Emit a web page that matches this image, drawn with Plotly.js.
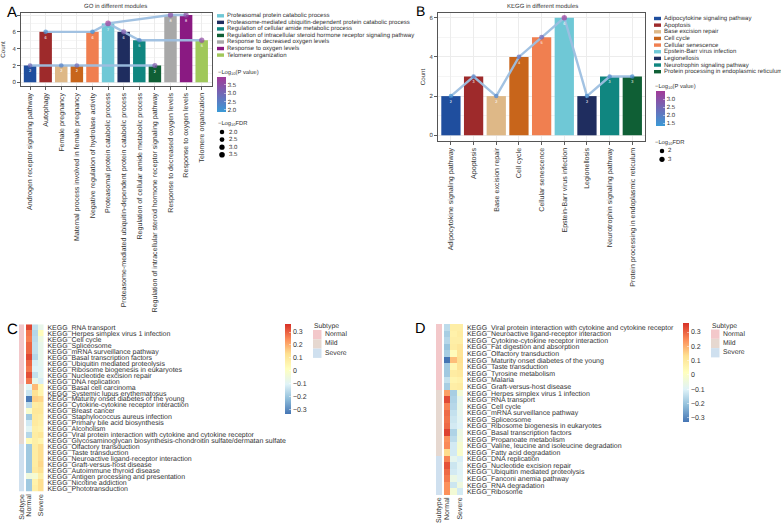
<!DOCTYPE html>
<html>
<head>
<meta charset="utf-8">
<script src="https://cdn.plot.ly/plotly-3.0.1.min.js"></script>
<style>
html,body{margin:0;padding:0;background:#fff}
svg text{text-rendering:geometricPrecision}
</style>
</head>
<body>
<div id="chart" style="width:781px;height:524px"></div>
<script>
// panel A
const goTerms = ['Androgen receptor signaling pathway', 'Autophagy', 'Female pregnancy', 'Maternal process involved in female pregnancy', 'Negative regulation of hydrolase activity', 'Proteasomal protein catabolic process', 'Proteasome-mediated ubiquitin-dependent protein catabolic process', 'Regulation of cellular amide metabolic process', 'Regulation of intracellular steroid hormone receptor signaling pathway', 'Response to decreased oxygen levels', 'Response to oxygen levels', 'Telomere organization']
const goCounts = [2, 6, 2, 2, 6, 7, 6, 5, 2, 8, 8, 5]
const goColors = ['#1f4e9e', '#9e2a2b', '#deb887', '#c8651b', '#f07f50', '#6fc8d6', '#1f2d5f', '#108680', '#0f5f35', '#a8a8a8', '#8a1a82', '#a0c85a']
const goP = [2.9, 2.1, 2.4, 2.9, 2.1, 3.9, 3.3, 2.3, 3.3, 3.5, 3.5, 3.6]
const goFdr = [2.2, 2.2, 2.2, 2.2, 2.2, 3.5, 2.8, 2.2, 2.8, 3, 3, 3]
const goPaths = [[0, 2, 3, 8], [1, 4, 5, 9, 10], [5, 6, 7, 11]]

// panel B
const keggTerms = ['Adipocytokine signaling pathway', 'Apoptosis', 'Base excision repair', 'Cell cycle', 'Cellular senescence', 'Epstein-Barr virus infection', 'Legionellosis', 'Neurotrophin signaling pathway', 'Protein processing in endoplasmic reticulum']
const keggCounts = [2, 3, 2, 4, 5, 6, 2, 3, 3]
const keggColors = ['#1f4e9e', '#9e2a2b', '#deb887', '#c8651b', '#f07f50', '#6fc8d6', '#1f2d5f', '#108680', '#0f5f35']
const keggP = [1.5, 1.9, 1.8, 2.2, 2.5, 3.4, 1.6, 1.7, 1.6]
const keggFdr = [2, 2, 2, 2.4, 2.6, 3.2, 2, 2, 2]

// panel C
const heatLabelsC = ['RNA transport', 'Herpes simplex virus 1 infection', 'Cell cycle', 'Spliceosome', 'mRNA surveillance pathway', 'Basal transcription factors', 'Ubiquitin mediated proteolysis', 'Ribosome biogenesis in eukaryotes', 'Nucleotide excision repair', 'DNA replication', 'Basal cell carcinoma', 'Systemic lupus erythematosus', 'Maturity onset diabetes of the young', 'Cytokine-cytokine receptor interaction', 'Breast cancer', 'Staphylococcus aureus infection', 'Primary bile acid biosynthesis', 'Alcoholism', 'Viral protein interaction with cytokine and cytokine receptor', 'Glycosaminoglycan biosynthesis-chondroitin sulfate/dermatan sulfate', 'Olfactory transduction', 'Taste transduction', 'Neuroactive ligand-receptor interaction', 'Graft-versus-host disease', 'Autoimmune thyroid disease', 'Antigen processing and presentation', 'Nicotine addiction', 'Phototransduction']
const heatNormalC = [.33, .27, .26, .29, .29, .33, .29, .27, .32, .27, -.1, -.14, -.33, -.16, -.02, -.2, -.13, -.1, -.17, .03, -.2, -.2, -.2, -.2, -.2, -.05, -.2, -.2]
const heatMildC = [-.15, -.17, -.16, -.15, -.15, -.17, -.12, -.11, -.15, -.08, .18, .12, .15, .08, .1, .09, .09, .07, .08, .07, .08, .08, .08, .08, .09, -.03, .06, .07]
const heatSevereC = [-.08, .02, -.06, -.08, -.08, -.08, -.09, -.1, -.09, -.12, .04, .05, .14, .09, .1, .08, .07, .06, .1, .05, .13, .13, .13, .14, .12, .07, .13, .13]
const subtypeC = [0, 0, 0, 0, 0, 0, 0, 0, 0, 0, 1, 1, 1, 1, 1, 1, 1, 1, 1, 1, 2, 2, 2, 2, 2, 2, 2, 2]

// panel D
const heatLabelsD = ['Viral protein interaction with cytokine and cytokine receptor', 'Neuroactive ligand-receptor interaction', 'Cytokine-cytokine receptor interaction', 'Fat digestion and absorption', 'Olfactory transduction', 'Maturity onset diabetes of the young', 'Taste transduction', 'Tyrosine metabolism', 'Malaria', 'Graft-versus-host disease', 'Herpes simplex virus 1 infection', 'RNA transport', 'Cell cycle', 'mRNA surveillance pathway', 'Spliceosome', 'Ribosome biogenesis in eukaryotes', 'Basal transcription factors', 'Propanoate metabolism', 'Valine, leucine and isoleucine degradation', 'Fatty acid degradation', 'DNA replication', 'Nucleotide excision repair', 'Ubiquitin mediated proteolysis', 'Fanconi anemia pathway', 'RNA degradation', 'Ribosome']
const heatNormalD = [-.15, -.18, -.16, -.2, -.18, -.33, -.19, -.19, -.14, -.18, .22, .33, .26, .29, .28, .29, .34, .24, .25, .14, .26, .32, .29, .27, .24, .24]
const heatMildD = [.08, .07, .08, .09, .03, .18, .05, .09, .06, .08, -.18, -.17, -.16, -.14, -.13, -.12, -.17, -.15, -.12, -.12, -.08, -.13, -.12, -.06, -.13, -.03]
const heatSevereD = [.08, .09, .08, .11, .12, .13, .12, .1, .07, .09, -.03, -.08, -.07, -.08, -.09, -.1, -.06, -.05, -.02, -.01, -.11, -.09, -.1, -.09, -.05, -.12]
const subtypeD = [0, 0, 0, 0, 0, 0, 0, 0, 0, 0, 1, 1, 1, 1, 1, 1, 1, 1, 1, 1, 2, 2, 2, 2, 2, 2]

const heatColumns = ['Normal', 'Mild', 'Severe']
const subtypeNames = ['Normal', 'Mild', 'Severe']
const subtypeColors = ['#f3c8ca', '#e6d8d0', '#cfe0ef']
const countTicks = [0, 2, 4, 6, 8]
const goCountLabels = ['0', '2', '4', '6', '']
const keggCountLabels = ['0', '2', '4', '6', '']

const W = 781
const H = 524
const FONT = '"Liberation Sans", Arial, sans-serif'
const TEXT = '#333333'
const px = x => x / W
const py = y => 1 - y / H

const pScale = [[0, '#3b9ad6'], [1, '#a23a98']]
const heatScale = [[0, '#4575b4'], [0.17, '#91bfdb'], [0.33, '#e0f3f8'], [0.5, '#ffffbf'], [0.67, '#fee090'], [0.83, '#fc8d59'], [1, '#d73027']]
const subtypeScale = [[0, subtypeColors[0]], [1 / 3, subtypeColors[0]], [1 / 3, subtypeColors[1]], [2 / 3, subtypeColors[1]], [2 / 3, subtypeColors[2]], [1, subtypeColors[2]]]

const fdrSize = fdr => 3 + fdr * 0.75

const traces = []
const annotations = []
const shapes = []

function label(x, y, text, size, opts) {
  annotations.push(Object.assign({
    xref: 'paper', yref: 'paper', x: px(x), y: py(y), text,
    showarrow: false, xanchor: 'left', yanchor: 'middle', align: 'left',
    borderpad: 0, font: {family: FONT, size, color: TEXT}
  }, opts || {}))
}

function swatch(x0, y0, x1, y1, color) {
  shapes.push({type: 'rect', xref: 'paper', yref: 'paper', x0: px(x0), x1: px(x1), y0: py(y0), y1: py(y1), fillcolor: color, line: {width: 0}})
}

function dot(x, y, d) {
  const r = d / 2
  shapes.push({type: 'circle', xref: 'paper', yref: 'paper', x0: px(x - r), x1: px(x + r), y0: py(y + r), y1: py(y - r), fillcolor: '#000', line: {width: 0}})
}

function barAxes(xa, ya, box, xRange, yRange, terms, tickLabels, standoff) {
  return {
    [xa]: {
      domain: [px(box[0]), px(box[1])], range: xRange, anchor: ya.replace('axis', ''),
      tickmode: 'array', tickvals: terms.map((t, i) => i), ticktext: terms, tickangle: -90,
      ticks: 'outside', ticklen: 3, tickcolor: '#333', tickwidth: 0.8,
      tickfont: {family: FONT, size: 7.1, color: TEXT},
      showline: true, mirror: true, linecolor: '#555', linewidth: 1,
      showgrid: true, gridcolor: '#ececec', gridwidth: 1, zeroline: false
    },
    [ya]: {
      domain: [py(box[3]), py(box[2])], range: yRange, anchor: xa.replace('axis', ''),
      tickmode: 'array', tickvals: countTicks, ticktext: tickLabels,
      ticks: 'outside', ticklen: 3, tickcolor: '#333', tickwidth: 0.8,
      tickfont: {family: FONT, size: 6, color: TEXT},
      title: {text: 'Count', standoff, font: {family: FONT, size: 6.2, color: TEXT}},
      showline: true, mirror: true, linecolor: '#555', linewidth: 1,
      showgrid: true, gridcolor: '#ececec', gridwidth: 1, zeroline: false,
      minor: {dtick: 1, showgrid: true, gridcolor: '#f5f5f5', gridwidth: 1}
    }
  }
}

function barPanel(xid, yid, terms, counts, colors, barWidth, paths, pvals, fdrs, axisName) {
  traces.push({type: 'bar', x: terms.map((t, i) => i), y: counts, width: barWidth, marker: {color: colors, line: {width: 0}}, xaxis: xid, yaxis: yid, showlegend: false, hoverinfo: 'skip'})
  paths.forEach(path => {
    traces.push({type: 'scatter', mode: 'lines', x: path, y: path.map(i => counts[i]), line: {color: '#9dbfe0', width: 2.4}, opacity: 0.95, xaxis: xid, yaxis: yid, showlegend: false, hoverinfo: 'skip'})
  })
  traces.push({
    type: 'scatter', mode: 'markers+text', x: terms.map((t, i) => i), y: counts,
    text: counts.map(String), textposition: 'bottom center', textfont: {family: FONT, size: 3.8, color: '#fff'},
    marker: {size: fdrs.map(fdrSize), color: pvals, coloraxis: axisName, line: {width: 0}},
    xaxis: xid, yaxis: yid, showlegend: false, hoverinfo: 'skip'
  })
}

function heatPanel(subX, subY, mainX, mainY, labels, normal, mild, severe, subtype, axisName) {
  traces.push({type: 'heatmap', x: ['Subtype'], y: labels, z: subtype.map(v => [v]), zmin: 0, zmax: 3, zauto: false, colorscale: subtypeScale, showscale: false, xaxis: subX, yaxis: subY, hoverinfo: 'skip', zsmooth: false})
  traces.push({type: 'heatmap', x: heatColumns, y: labels, z: labels.map((l, i) => [normal[i], mild[i], severe[i]]), coloraxis: axisName, xaxis: mainX, yaxis: mainY, hoverinfo: 'skip', zsmooth: false})
}

function heatAxes(subX, subY, mainX, mainY, subBox, mainBox, labels, size) {
  const xOpts = {type: 'category', tickangle: -90, ticks: '', showgrid: false, showline: false, zeroline: false, tickfont: {family: FONT, size: 7, color: TEXT}}
  const yOpts = {type: 'category', autorange: 'reversed', showgrid: false, showline: false, zeroline: false, tickmode: 'array', tickvals: labels}
  return {
    [subX]: Object.assign({}, xOpts, {domain: [px(subBox[0]), px(subBox[1])], anchor: subY.replace('axis', '')}),
    [subY]: Object.assign({}, yOpts, {domain: [py(subBox[3]), py(subBox[2])], anchor: subX.replace('axis', ''), showticklabels: false, ticks: ''}),
    [mainX]: Object.assign({}, xOpts, {domain: [px(mainBox[0]), px(mainBox[1])], anchor: mainY.replace('axis', '')}),
    [mainY]: Object.assign({}, yOpts, {
      domain: [py(mainBox[3]), py(mainBox[2])], anchor: mainX.replace('axis', ''), side: 'right',
      ticktext: labels.map(l => 'KEGG_' + l), ticks: 'outside', ticklen: 1.5, tickcolor: 'rgba(0,0,0,0)',
      tickfont: {family: FONT, size, color: TEXT}
    })
  }
}

function colorbar(x, top, height, thick, size) {
  return {
    x: px(x), xanchor: 'left', xpad: 0, y: py(top), yanchor: 'top', ypad: 0,
    lenmode: 'pixels', len: height, thicknessmode: 'pixels', thickness: thick,
    outlinewidth: 0, borderwidth: 0, ticks: 'inside', ticklen: 2, tickwidth: 0.7, tickcolor: 'rgba(255,255,255,0.7)',
    tickfont: {family: FONT, size, color: TEXT}
  }
}

function termLegend(x, y0, step, names, colors, size) {
  names.forEach((name, i) => {
    const y = y0 + i * step
    swatch(x, y - 1.7, x + 7, y + 1.7, colors[i])
    label(x + 8.5, y, name, size)
  })
}

function subtypeLegend(x, top) {
  label(x, top, 'Subtype', 6.8)
  subtypeNames.forEach((name, i) => {
    const y = top + 3.5 + i * 9.3
    swatch(x, y, x + 8.5, y + 9.3, subtypeColors[i])
    label(x + 10.5, y + 4.6, name, 6.8)
  })
}

barPanel('x', 'y', goTerms, goCounts, goColors, 0.8, goPaths, goP, goFdr, 'coloraxis')
barPanel('x2', 'y2', keggTerms, keggCounts, keggColors, 0.85, [keggTerms.map((t, i) => i)], keggP, keggFdr, 'coloraxis2')
heatPanel('x3', 'y3', 'x4', 'y4', heatLabelsC, heatNormalC, heatMildC, heatSevereC, subtypeC, 'coloraxis3')
heatPanel('x5', 'y5', 'x6', 'y6', heatLabelsD, heatNormalD, heatMildD, heatSevereD, subtypeD, 'coloraxis4')

// panel letters and titles
label(6, 12, 'A', 15, {font: {family: FONT, size: 15, color: '#000'}})
label(415, 11, 'B', 14, {font: {family: FONT, size: 14, color: '#000'}})
label(6, 329, 'C', 15, {font: {family: FONT, size: 15, color: '#000'}})
label(414, 329, 'D', 14.5, {font: {family: FONT, size: 14.5, color: '#000'}})
label(115.5, 6.5, 'GO in different modules', 6, {xanchor: 'center', align: 'center'})
label(542, 6.5, 'KEGG in different modules', 6, {xanchor: 'center', align: 'center'})

// A legends
termLegend(217, 15.8, 6.55, goTerms.slice(5), goColors.slice(5), 6.05)
label(217, 72, '−Log<sub>10</sub>(P value)', 5.8)
label(217, 124, '−Log<sub>10</sub>FDR', 5.8)
;[2, 2.5, 3, 3.5].forEach((fdr, i) => {
  dot(222, 132 + i * 7.6, fdrSize(fdr))
  label(228, 132 + i * 7.6, fdr.toFixed(1), 6)
})

// B legends
termLegend(654, 18.5, 6.65, keggTerms, keggColors, 6.05)
label(654, 86, '−Log<sub>10</sub>(P value)', 5.8)
label(654, 143, '−Log<sub>10</sub>FDR', 5.8)
;[2, 3].forEach((fdr, i) => {
  dot(662, 151 + i * 8.3, fdrSize(fdr))
  label(667, 151 + i * 8.3, String(fdr), 6)
})

subtypeLegend(313, 326.5)
subtypeLegend(711, 326)

const layout = Object.assign({
  width: W, height: H, margin: {l: 0, r: 0, t: 0, b: 0, pad: 0}, autosize: false,
  paper_bgcolor: '#fff', plot_bgcolor: '#fff', showlegend: false,
  font: {family: FONT, color: TEXT}, annotations, shapes, bargap: 0.2,
  coloraxis: {cmin: 1.84, cmax: 3.96, colorscale: pScale, colorbar: Object.assign(colorbar(216.7, 77.3, 35.4, 8.5, 6), {tick0: 2, dtick: 0.5, tickformat: '.1f'})},
  coloraxis2: {cmin: 1.3, cmax: 3.49, colorscale: pScale, colorbar: Object.assign(colorbar(655.5, 91.3, 35.4, 9, 6), {tick0: 1.5, dtick: 0.5, tickformat: '.1f'})},
  coloraxis3: {cmin: -0.34, cmax: 0.36, colorscale: heatScale, colorbar: Object.assign(colorbar(285, 324.3, 90, 6, 7), {tick0: 0, dtick: 0.1})},
  coloraxis4: {cmin: -0.33, cmax: 0.363, colorscale: heatScale, colorbar: Object.assign(colorbar(682.7, 323, 99, 6.3, 7), {tick0: 0, dtick: 0.1})}
},
  barAxes('xaxis', 'yaxis', [21, 212, 13, 86], [-0.58, 11.66], [-0.44, 8.24], goTerms, goCountLabels, 6),
  barAxes('xaxis2', 'yaxis2', [438, 645, 13, 141], [-0.57, 8.56], [-0.29, 6.24], keggTerms, keggCountLabels, 3),
  heatAxes('xaxis3', 'yaxis3', 'xaxis4', 'yaxis4', [19, 24, 324.3, 491.7], [26, 43.5, 324.3, 491.7], heatLabelsC, 7),
  heatAxes('xaxis5', 'yaxis5', 'xaxis6', 'yaxis6', [436, 442.3, 324, 495], [444, 463, 324, 495], heatLabelsD, 7)
)

Plotly.newPlot('chart', traces, layout, {displayModeBar: false, staticPlot: true})
</script>
</body>
</html>
